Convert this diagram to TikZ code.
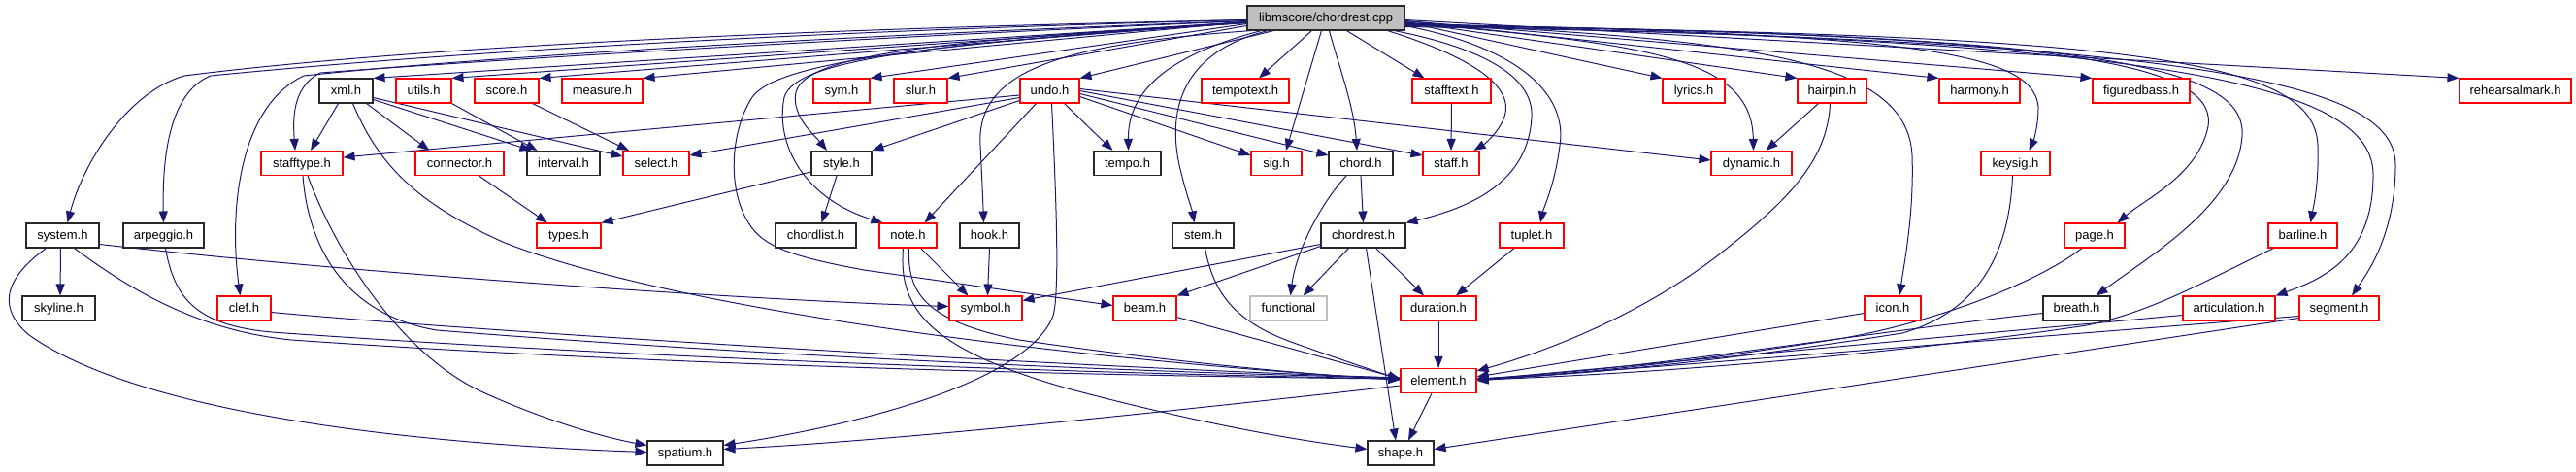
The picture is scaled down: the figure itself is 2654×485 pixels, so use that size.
\documentclass[tikz,border=0pt]{standalone}
\usepackage{fontspec}
\setmainfont{Liberation Sans}
\usetikzlibrary{arrows.meta}
\definecolor{edgeblue}{RGB}{25,25,112}
\definecolor{boxred}{RGB}{255,0,0}
\definecolor{greyfill}{RGB}{191,191,191}
\definecolor{boxblack}{RGB}{40,40,40}
\pgfdeclarelayer{bg}
\pgfsetlayers{bg,main}
\begin{document}
\begin{tikzpicture}[x=1pt,y=-1pt,
  box/.style={draw=boxblack, line width=1.1pt, fill=white, rectangle, inner sep=0pt,
    minimum height=25pt, text height=10pt, text depth=2pt,
    font=\fontsize{13}{15}\selectfont, text=black},
  redbox/.style={box, draw=boxred},
  blackbox/.style={box, draw=boxblack},
  extbox/.style={box, draw=greyfill},
  rootbox/.style={box, fill=greyfill},
  edge/.style={draw=edgeblue, line width=1pt, -{Triangle[length=12pt,width=9pt]}}]
\useasboundingbox (0,0) rectangle (2654,485);

% root
\node[rootbox, minimum width=162pt] (root) at (1366,18.5) {libmscore/chordrest.cpp};
% row 1
\node[blackbox, minimum width=55pt] (xml) at (356.5,93.5) {xml.h};
\node[redbox, minimum width=57pt] (utils) at (436.5,93.5) {utils.h};
\node[redbox, minimum width=66pt] (score) at (522,93.5) {score.h};
\node[redbox, minimum width=83pt] (measure) at (620.5,93.5) {measure.h};
\node[redbox, minimum width=58pt] (sym) at (867,93.5) {sym.h};
\node[redbox, minimum width=55pt] (slur) at (948.5,93.5) {slur.h};
\node[redbox, minimum width=61pt] (undo) at (1081.5,93.5) {undo.h};
\node[redbox, minimum width=90pt] (tempotext) at (1283,93.5) {tempotext.h};
\node[redbox, minimum width=81pt] (stafftext) at (1495.5,93.5) {stafftext.h};
\node[redbox, minimum width=64pt] (lyrics) at (1745,93.5) {lyrics.h};
\node[redbox, minimum width=71pt] (hairpin) at (1887.5,93.5) {hairpin.h};
\node[redbox, minimum width=83pt] (harmony) at (2039.5,93.5) {harmony.h};
\node[redbox, minimum width=100pt] (figuredbass) at (2206,93.5) {figuredbass.h};
\node[redbox, minimum width=115pt] (rehearsalmark) at (2591.5,93.5) {rehearsalmark.h};
% row 2
\node[redbox, minimum width=84pt] (stafftype) at (311,168) {stafftype.h};
\node[redbox, minimum width=91pt] (connector) at (473.5,168) {connector.h};
\node[blackbox, minimum width=75pt] (interval) at (580.5,168) {interval.h};
\node[redbox, minimum width=68pt] (select) at (676,168) {select.h};
\node[blackbox, minimum width=62pt] (style) at (867,168) {style.h};
\node[blackbox, minimum width=69pt] (tempo) at (1161.5,168) {tempo.h};
\node[redbox, minimum width=52pt] (sig) at (1315,168) {sig.h};
\node[blackbox, minimum width=66pt] (chord) at (1402,168) {chord.h};
\node[redbox, minimum width=58pt] (staff) at (1495,168) {staff.h};
\node[redbox, minimum width=83pt] (dynamic) at (1804.5,168) {dynamic.h};
\node[redbox, minimum width=71pt] (keysig) at (2076.5,168) {keysig.h};
% row 3
\node[blackbox, minimum width=75pt] (system) at (64.5,242.5) {system.h};
\node[blackbox, minimum width=83pt] (arpeggio) at (168.5,242.5) {arpeggio.h};
\node[redbox, minimum width=66pt] (types) at (586,242.5) {types.h};
\node[blackbox, minimum width=83pt] (chordlist) at (840.5,242.5) {chordlist.h};
\node[redbox, minimum width=59pt] (note) at (935.5,242.5) {note.h};
\node[blackbox, minimum width=61pt] (hook) at (1019.5,242.5) {hook.h};
\node[blackbox, minimum width=63pt] (stem) at (1239.5,242.5) {stem.h};
\node[blackbox, minimum width=87pt] (chordrest) at (1404.5,242.5) {chordrest.h};
\node[redbox, minimum width=66pt] (tuplet) at (1578,242.5) {tuplet.h};
\node[redbox, minimum width=62pt] (page) at (2158,242.5) {page.h};
\node[redbox, minimum width=71pt] (barline) at (2372.5,242.5) {barline.h};
% row 4
\node[blackbox, minimum width=75pt] (skyline) at (60.5,317.5) {skyline.h};
\node[redbox, minimum width=55pt] (clef) at (251.5,317.5) {clef.h};
\node[redbox, minimum width=75pt] (symbol) at (1015.5,317.5) {symbol.h};
\node[redbox, minimum width=65pt] (beam) at (1179.5,317.5) {beam.h};
\node[extbox, minimum width=79pt] (functional) at (1327.5,317.5) {functional};
\node[redbox, minimum width=78pt] (duration) at (1482,317.5) {duration.h};
\node[redbox, minimum width=58pt] (icon) at (1950,317.5) {icon.h};
\node[blackbox, minimum width=69pt] (breath) at (2139.5,317.5) {breath.h};
\node[redbox, minimum width=95pt] (articulation) at (2296.5,317.5) {articulation.h};
\node[redbox, minimum width=82pt] (segment) at (2410,317.5) {segment.h};
% row 5, 6
\node[redbox, minimum width=78pt] (element) at (1482,392) {element.h};
\node[blackbox, minimum width=78pt] (spatium) at (706,466.5) {spatium.h};
\node[blackbox, minimum width=68pt] (shape) at (1443,466.5) {shape.h};

\begin{pgfonlayer}{bg}
% root -> row 1 (left)
\draw[edge] ([yshift=-4]root.west) -- (xml.north east);
\draw[edge] ([yshift=-4]root.west) -- (utils.north east);
\draw[edge] ([yshift=-4]root.west) -- (score.north east);
\draw[edge] ([yshift=-4]root.west) -- (measure.north east);
\draw[edge] ([yshift=-6]root.west) -- (sym.north east);
\draw[edge] ([yshift=-8]root.west) -- (slur.north east);
\draw[edge] ([xshift=28]root.south west) -- (undo.north east);
\draw[edge] ([xshift=67]root.south west) -- ([xshift=14]tempotext.north);
% root -> far left
\draw[edge] ([yshift=-2]root.west) .. controls (900,28) and (450,45) .. (190,78) .. controls (130,95) and (85,170) .. ([xshift=5]system.north);
\draw[edge] ([yshift=-2]root.west) .. controls (900,30) and (500,50) .. (217,78) .. controls (175,95) and (167,160) .. (arpeggio.north);
\draw[edge] ([yshift=-3]root.west) .. controls (900,35) and (500,58) .. (313,78) .. controls (245,110) and (236,220) .. ([xshift=-4]clef.north);
\draw[edge] ([yshift=-3]root.west) .. controls (900,38) and (500,62) .. (330,75) .. controls (300,90) and (302,125) .. ([xshift=-7]stafftype.north);
% root -> middle left
\draw[edge] ([yshift=-5]root.west) .. controls (950,45) and (800,65) .. (775,100) .. controls (752,135) and (748,200) .. (775,235) .. controls (790,255) and (820,265) .. (890,278) -- ([yshift=3]beam.west);
\draw[edge] ([yshift=-5]root.west) .. controls (950,45) and (820,62) .. (808,100) .. controls (798,150) and (830,205) .. ([xshift=4]note.north west);
\draw[edge] ([yshift=-5]root.west) .. controls (950,42) and (830,58) .. (820,95) .. controls (815,120) and (840,140) .. ([xshift=-15]style.north);
% root -> bottom left
\draw[edge] ([xshift=5]root.south west) .. controls (1100,45) and (1005,70) .. (1010,150) .. controls (1012,190) and (1013,215) .. ([xshift=-6]hook.north);
\draw[edge] ([xshift=15]root.south west) .. controls (1210,55) and (1162,90) .. ([xshift=1]tempo.north);
\draw[edge] ([xshift=22]root.south west) .. controls (1230,50) and (1200,100) .. (1215,170) .. controls (1222,200) and (1228,215) .. ([xshift=-9]stem.north);
% root -> bottom
\draw[edge] ([xshift=77]root.south west) -- ([xshift=10]sig.north);
\draw[edge] ([xshift=85]root.south west) .. controls (1380,70) and (1395,110) .. ([xshift=-4]chord.north);
\draw[edge] ([xshift=103]root.south west) -- ([xshift=-28]stafftext.north);
\draw[edge] ([xshift=145]root.south west) .. controls (1520,60) and (1560,90) .. (1550,120) .. controls (1545,135) and (1530,148) .. ([xshift=-6]staff.north east);
\draw[edge] ([xshift=152]root.south west) .. controls (1530,50) and (1580,80) .. (1578,120) .. controls (1575,190) and (1510,215) .. (chordrest.north east);
\draw[edge] ([yshift=-8]root.east) .. controls (1570,50) and (1615,100) .. (1607,150) .. controls (1602,190) and (1590,215) .. ([xshift=9]tuplet.north);
% root -> right
\draw[edge] ([yshift=-4]root.east) -- (lyrics.north west);
\draw[edge] ([yshift=-4]root.east) -- (hairpin.north west);
\draw[edge] ([yshift=-3]root.east) -- (harmony.north west);
\draw[edge] ([yshift=-3]root.east) -- (figuredbass.north west);
\draw[edge] ([yshift=-2]root.east) -- (rehearsalmark.north west);
\draw[edge] ([yshift=-5]root.east) .. controls (1700,45) and (1805,60) .. ([xshift=2]dynamic.north);
\draw[edge] ([yshift=-5]root.east) .. controls (1800,40) and (1965,60) .. (1970,160) .. controls (1972,220) and (1962,270) .. ([xshift=7]icon.north);
\draw[edge] ([yshift=-6]root.east) .. controls (1950,35) and (2095,50) .. (2100,110) .. controls (2100,130) and (2095,145) .. ([xshift=14]keysig.north);
\draw[edge] ([yshift=-7]root.east) .. controls (2100,35) and (2285,60) .. (2275,130) .. controls (2265,180) and (2210,205) .. ([xshift=-8]page.north east);
\draw[edge] ([yshift=-7]root.east) .. controls (2150,35) and (2315,65) .. (2310,140) .. controls (2305,210) and (2220,260) .. ([xshift=-15]breath.north east);
\draw[edge] ([yshift=-8]root.east) .. controls (2200,35) and (2385,60) .. (2388,150) .. controls (2389,190) and (2384,210) .. ([xshift=8]barline.north);
\draw[edge] ([yshift=-8]root.east) .. controls (2250,40) and (2445,90) .. (2445,180) .. controls (2445,260) and (2400,285) .. (articulation.north east);
\draw[edge] ([yshift=-9]root.east) .. controls (2300,40) and (2468,90) .. (2468,170) .. controls (2468,240) and (2440,280) .. ([xshift=13]segment.north);

% xml, utils, score, connector, style
\draw[edge] ([xshift=-8]xml.south) -- ([xshift=9]stafftype.north);
\draw[edge] ([xshift=-7]xml.south east) -- ([xshift=15]connector.north west);
\draw[edge] ([yshift=-9]xml.east) -- ([xshift=5]interval.north west);
\draw[edge] ([yshift=-7]xml.east) -- ([yshift=7]select.west);
\draw[edge] ([xshift=7]xml.south) .. controls (390,170) and (430,210) .. (520,250) .. controls (700,320) and (1100,370) .. ([yshift=1]element.west);
\draw[edge] (utils.south east) -- ([xshift=-27]interval.north);
\draw[edge] ([xshift=-7]score.south east) -- ([xshift=-28]select.north);
\draw[edge] ([xshift=20]connector.south) -- ([xshift=-22]types.north);
\draw[edge] ([yshift=-9]style.west) -- (types.north east);
\draw[edge] ([xshift=-5]style.south) -- ([xshift=6]chordlist.north);

% undo
\draw[edge] ([yshift=-4.5]undo.west) -- ([yshift=6]stafftype.east);
\draw[edge] ([yshift=-7]undo.west) -- ([yshift=8]select.east);
\draw[edge] ([yshift=-10]undo.west) -- (style.north east);
\draw[edge] ([xshift=-14]undo.south) -- ([xshift=-13]note.north east);
\draw[edge] ([xshift=15]undo.south) -- ([xshift=-15]tempo.north);
\draw[edge] ([yshift=-6]undo.east) -- ([yshift=8]sig.west);
\draw[edge] ([yshift=-3]undo.east) -- ([yshift=8]chord.west);
\draw[edge] (undo.east) -- ([yshift=8]staff.west);
\draw[edge] ([yshift=2]undo.east) -- ([yshift=3]dynamic.west);
\draw[edge] ([xshift=2]undo.south) .. controls (1088,200) and (1092,300) .. (1085,325) .. controls (1060,390) and (900,435) .. ([yshift=8]spatium.east);

% hairpin, stafftext, chord, chordrest, tuplet
\draw[edge] ([xshift=-14]hairpin.south) -- ([xshift=15]dynamic.north);
\draw[edge] ([xshift=-2]hairpin.south) .. controls (1883,160) and (1850,200) .. (1780,255) .. controls (1700,320) and (1600,360) .. ([yshift=-3]element.north east);
\draw[edge] (stafftext.south) -- (staff.north);
\draw[edge] (chord.south) -- (chordrest.north);
\draw[edge] ([xshift=-15]chord.south) .. controls (1360,210) and (1335,260) .. ([xshift=2]functional.north);
\draw[edge] ([yshift=-9]chordrest.west) -- ([yshift=8]symbol.east);
\draw[edge] ([yshift=-11]chordrest.west) -- (beam.north east);
\draw[edge] ([xshift=-15]chordrest.south) -- ([xshift=-25]functional.north east);
\draw[edge] ([xshift=13]chordrest.south) -- ([xshift=-15]duration.north);
\draw[edge] ([xshift=3]chordrest.south) -- ([xshift=-5]shape.north);
\draw[edge] ([xshift=-18]tuplet.south) -- ([xshift=18]duration.north);
\draw[edge] (duration.south) -- (element.north);
\draw[edge] ([xshift=-7]element.south) -- ([xshift=8]shape.north);
\draw[edge] ([yshift=-5]element.west) .. controls (1150,430) and (900,455) .. ([yshift=4]spatium.east);

% system, arpeggio, clef, stafftype
\draw[edge] ([xshift=-2]system.south) -- ([xshift=1.5]skyline.north);
\draw[edge] ([yshift=-9]system.east) .. controls (400,285) and (800,310) .. ([yshift=2]symbol.west);
\draw[edge] ([xshift=12]system.south) .. controls (130,295) and (200,340) .. (300,350) .. controls (700,378) and (1200,388) .. ([yshift=2]element.west);
\draw[edge] ([xshift=-17]system.south) .. controls (0,290) and (0,320) .. (30,345) .. controls (150,430) and (450,458) .. ([yshift=1]spatium.west);
\draw[edge] ([xshift=2]arpeggio.south) .. controls (180,310) and (205,335) .. (280,342) .. controls (700,372) and (1200,386) .. ([yshift=2]element.west);
\draw[edge] ([yshift=-4]clef.east) .. controls (500,342) and (1100,378) .. ([yshift=3]element.west);
\draw[edge] ([xshift=1]stafftype.south) .. controls (318,260) and (360,325) .. (450,340) .. controls (800,368) and (1200,384) .. ([yshift=3]element.west);
\draw[edge] ([xshift=6]stafftype.south) .. controls (350,270) and (420,370) .. (500,405) .. controls (560,432) and (620,450) .. ([yshift=8]spatium.west);

% note, hook, stem, beam
\draw[edge] ([xshift=13]note.south) -- ([xshift=-18]symbol.north);
\draw[edge] ([xshift=1]note.south) .. controls (935,300) and (950,330) .. (1050,350) .. controls (1200,372) and (1350,386) .. ([yshift=1]element.west);
\draw[edge] ([xshift=-5]note.south) .. controls (925,320) and (960,360) .. (1100,400) .. controls (1250,440) and (1350,455) .. ([yshift=4]shape.west);
\draw[edge] (hook.south) -- ([xshift=2]symbol.north);
\draw[edge] ([xshift=2]stem.south) .. controls (1250,300) and (1270,330) .. (1330,352) .. controls (1380,370) and (1420,383) .. ([yshift=1]element.west);
\draw[edge] ([yshift=-9]beam.east) -- ([yshift=2]element.west);

% right side into element
\draw[edge] ([xshift=-3]keysig.south) .. controls (2070,260) and (2040,320) .. (1960,343) .. controls (1800,368) and (1650,385) .. ([yshift=2]element.east);
\draw[edge] ([yshift=-5]icon.west) -- ([yshift=4]element.east);
\draw[edge] ([xshift=-13]page.south) .. controls (2100,290) and (2000,330) .. (1900,348) .. controls (1750,372) and (1600,388) .. ([yshift=2]element.east);
\draw[edge] ([yshift=-5]breath.west) .. controls (1900,345) and (1700,380) .. ([yshift=2]element.east);
\draw[edge] ([xshift=-30]barline.south) .. controls (2270,290) and (2220,320) .. (2150,335) .. controls (1950,365) and (1700,385) .. ([yshift=1]element.east);
\draw[edge] ([yshift=-7]articulation.west) -- ([yshift=1]element.east);
\draw[edge] ([yshift=-8]segment.west) -- (element.east);
\draw[edge] ([yshift=-10]segment.west) -- ([yshift=4]shape.east);
\end{pgfonlayer}
\end{tikzpicture}
\end{document}
